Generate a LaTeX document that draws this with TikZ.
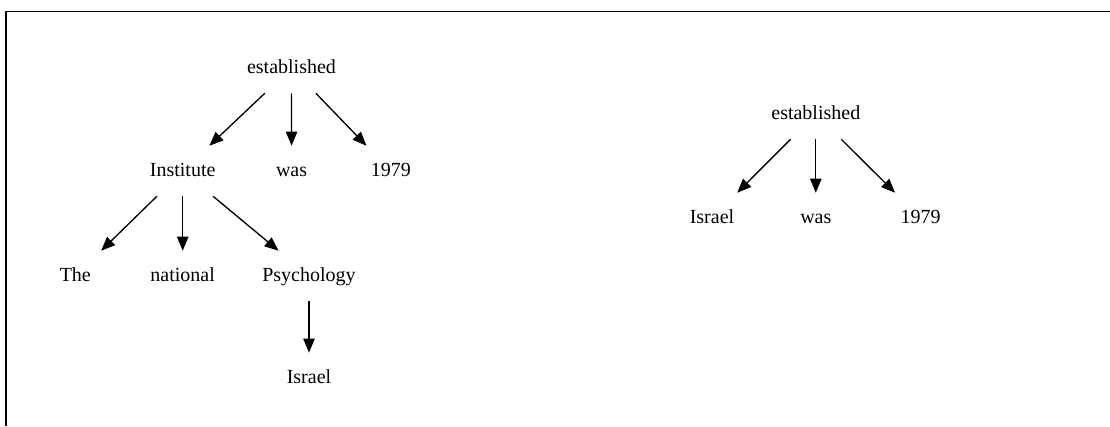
\documentclass[tikz,border=0pt]{standalone}
\usepackage{fontspec}
\setmainfont{Liberation Serif}
\usepackage{tikz}
\usetikzlibrary{arrows.meta,positioning}

\begin{document}
\begin{tikzpicture}[x=0.75pt,y=-0.75pt,
  word/.style={inner xsep=0pt,inner ysep=12pt,minimum width=60pt,
    text height=10.5pt,text depth=3pt,font=\fontsize{15}{18}\selectfont},
  dep/.style={-{Triangle[length=10.5pt,width=8.5pt]},line width=1pt}]
\useasboundingbox (0,0) rectangle (1110,426);
% frame (top and left edges only)
\draw[line width=1.1pt] (6,426) -- (6,11.5) -- (1110,11.5);
% left tree
\node[word] (estL) at (291.5,68) {established};
\node[word] (instL) at (182.7,171) {Institute};
\node[word] (wasL) at (291.6,171) {was};
\node[word] (yrL) at (390.8,171) {1979};
\node[word] (theL) at (75.3,276) {The};
\node[word] (natL) at (182.7,276) {national};
\node[word] (psyL) at (309,276) {Psychology};
\node[word] (isrL) at (309,378) {Israel};
\draw[dep] (estL) -- (instL);
\draw[dep] (estL) -- (wasL);
\draw[dep] (estL) -- (yrL);
\draw[dep] (instL) -- (theL);
\draw[dep] (instL) -- (natL);
\draw[dep] (instL) -- (psyL);
\draw[dep] (psyL) -- (isrL);
% right tree
\node[word] (estR) at (815.8,114) {established};
\node[word] (isrR) at (712,218) {Israel};
\node[word] (wasR) at (815.8,218) {was};
\node[word] (yrR) at (920.5,218) {1979};
\draw[dep] (estR) -- (isrR);
\draw[dep] (estR) -- (wasR);
\draw[dep] (estR) -- (yrR);
\end{tikzpicture}
\end{document}
